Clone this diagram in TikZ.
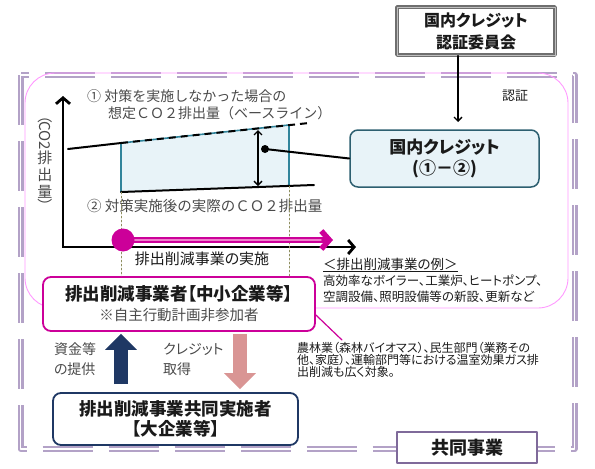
\documentclass[tikz,border=0pt]{standalone}
\usepackage{fontspec}
\setmainfont{Noto Sans CJK JP}[RawFeature=+palt]
\newfontfamily\monojp{Noto Sans CJK JP}
\usepackage{xcolor}
\usepackage{tikz}
\usetikzlibrary{arrows.meta,positioning}
\definecolor{crLilac}{HTML}{B3A2C7}
\definecolor{crPink}{HTML}{FF99FF}
\definecolor{crMagenta}{HTML}{CC0099}
\definecolor{crBlush}{HTML}{EE7FCB}
\definecolor{crTeal}{HTML}{31849B}
\definecolor{crDeepTeal}{HTML}{2D5F70}
\definecolor{crIce}{HTML}{E8F3F8}
\definecolor{crNavy}{HTML}{1F3864}
\definecolor{crSalmon}{HTML}{D99594}
\definecolor{crGrey}{HTML}{6F6F6F}
\definecolor{crInk}{HTML}{1A1A1A}
\definecolor{crMuted}{HTML}{4A4A4A}
\definecolor{crPurple}{HTML}{7F6A9A}
\definecolor{crOlive}{HTML}{8F8F60}
\tikzset{
  cr diagram/.style={x=1pt, y=-1pt, text=crInk,
    line cap=round, line join=round},
  cr box/.style={draw, fill=white, line width=1.8pt,
    rounded corners=8pt, align=center, inner sep=0pt},
  cr committee box/.style={draw=crGrey, double=black!25, double distance=0.8pt,
    line width=1.4pt, fill=white, align=center, minimum width=158pt,
    minimum height=48pt, font=\fontsize{16}{22}\selectfont\bfseries},
  cr credit box/.style={cr box, draw=crDeepTeal, fill=crIce, line width=1.5pt,
    minimum width=189pt, minimum height=57pt,
    font=\fontsize{17}{21}\selectfont\bfseries},
  cr joint box/.style={draw=crPurple, fill=white, line width=1.2pt,
    minimum width=140pt, minimum height=31pt, inner sep=0pt,
    font=\fontsize{18}{20}\selectfont\bfseries},
  cr frame/.style={draw=crLilac, double=white, double distance=1.6pt,
    line width=2.2pt, line cap=butt, dash pattern=on 50pt off 16pt},
  cr zone/.style={draw=crPink, line width=0.9pt, rounded corners=30pt},
  cr axis/.style={{Straight Barb[length=6pt,width=14pt]}-{Straight Barb[length=6pt,width=14pt]},
    draw=black, line width=2.8pt, line join=miter},
  cr trend/.style={draw=black, line width=2pt},
  cr teal edge/.style={draw=crTeal, line width=1.6pt},
  cr gap arrow/.style={{Straight Barb[length=4pt,width=8pt]}-{Straight Barb[length=4pt,width=8pt]},
    draw=black, line width=1.3pt, shorten <=2pt, shorten >=1pt},
  cr arrow/.style={-{Straight Barb[length=4pt,width=8pt]}, draw=black, line width=1.3pt},
  cr guide/.style={draw=crOlive, line width=0.5pt, dash pattern=on 2pt off 2pt},
  cr run/.style={-{Straight Barb[length=8pt,width=18pt]}, draw=crMagenta, line width=5.5pt},
  cr run inner/.style={draw=crBlush, line width=1.4pt, shorten >=12pt},
  cr run dot/.style={circle, fill=crMagenta, minimum size=23pt, inner sep=0pt},
  cr block/.style={line width=14pt, line cap=butt,
    -{Triangle[length=16pt,width=31pt]}},
  cr label/.style={text=crMuted, inner sep=0pt, font=\fontsize{14}{20}\selectfont},
  cr chart text/.style={text=crMuted, inner sep=0pt, align=left,
    font=\monojp\fontsize{14.5}{17}\selectfont},
  cr small/.style={text=crInk, inner sep=0pt, font=\fontsize{12.5}{16}\selectfont},
  cr note/.style={text=crInk, inner sep=0pt, align=left,
    font=\fontsize{12}{12}\selectfont}
}
\begin{document}
\begin{tikzpicture}[cr diagram]
\useasboundingbox (0,0) rectangle (595,469);
\draw[cr frame] (20.5,75) rectangle (574.5,449);
\draw[cr zone] (25,73) rectangle (568,308);

\node[cr committee box] (committee) at (476,31) {国内クレジット\\認証委員会};
\coordinate (certify) at (458,122);
\draw[cr arrow] (committee.south -| certify) -- (certify);
\node[text=crInk, inner sep=0pt, font=\fontsize{13}{15}\selectfont] (certify label) at (515,96) {認証};

\coordinate (origin) at (63,247);
\coordinate (y top) at (63,96);
\coordinate (x end) at (356,247);
\coordinate (base a) at (68,149);
\coordinate (base b) at (121,143);
\coordinate (base c) at (289,125);
\coordinate (base d) at (309,123);
\coordinate (act a) at (121,192);
\coordinate (act b) at (289,186);
\coordinate (act c) at (314,185);
\fill[crIce] (base b) -- (base c) -- (act b) -- (act a) -- cycle;
\draw[cr teal edge] (act a) -- (base b) -- (base c) -- (act b);
\draw[cr trend] (base a) -- (base b);
\draw[cr trend, line cap=butt, dash pattern=on 7pt off 5pt] (base b) -- (base d);
\draw[cr trend] (act a) -- (act c);
\draw[cr axis] (y top) -- (origin) -- (x end);

\node[cr chart text, anchor=west, font=\monojp\fontsize{14}{17}\selectfont] (baseline text) at (87,104.5) {① 対策を実施しなかった場合の\\\hspace{21pt}想定ＣＯ２排出量（ベースライン）};
\node[cr chart text, anchor=west] (actual text) at (87,206) {② 対策実施後の実際のＣＯ２排出量};
\node[cr label, align=center, font=\monojp\fontsize{15}{17}\selectfont] (y label) at (45,161)
  {\rotatebox[origin=c]{-90}{（}\\[-3pt]\rotatebox[origin=c]{-90}{CO2}\\排\\出\\量\\[-3pt]\rotatebox[origin=c]{-90}{）}};

\coordinate (gap top) at (258,128);
\coordinate (gap bottom) at (258,187);
\draw[cr gap arrow] (gap top) -- (gap bottom);
\node[cr credit box] (credit) at (444.5,158.5) {国内クレジット\\(①－②)};
\node[circle, fill=black, minimum size=8pt, inner sep=0pt] (gap dot) at (265,149) {};
\draw[cr trend] (gap dot.center) -- (credit.west);

\node[cr box, draw=crMagenta, minimum width=272pt, minimum height=54pt,
  font=\fontsize{17.5}{20}\selectfont] (sme) at (179,304)
  {\bfseries 排出削減事業者【中小企業等】\\{\color{crMuted}\monojp\fontsize{14.5}{17}\selectfont ※自主行動計画非参加者}};
\draw[cr guide] (act a) -- (act a |- sme.north);
\draw[cr guide] (act b) -- (act b |- sme.north);

\coordinate (run start) at (123,240);
\coordinate (run end) at (333,240);
\draw[cr run] (run start) -- (run end);
\draw[cr run inner] (run start) -- (run end);
\node[cr run dot] (run dot) at (run start) {};
\node[text=crInk, inner sep=0pt, font=\fontsize{15}{17}\selectfont] (run label) at (202,259) {排出削減事業の実施};

\node[text=crInk, inner sep=0pt, anchor=west, font=\fontsize{13.5}{15}\selectfont] (example head) at (323,265) {\underline{＜排出削減事業の例＞}};
\node[cr small, anchor=north west, align=left] (examples) at (323,275) {高効率なボイラー、工業炉、ヒートポンプ、\\空調設備、照明設備等の新設、更新など};

\coordinate (note tip) at (342,340);
\draw[draw=crMagenta, line width=1.2pt] ([yshift=-11pt]sme.east) -- (note tip);
\node[cr note, anchor=north west] (scope note) at (297,342) {農林業（森林バイオマス）、民生部門（業務その\\他、家庭）、運輸部門等における温室効果ガス排\\出削減も広く対象。};

\node[cr box, draw=crNavy, minimum width=245pt, minimum height=52pt,
  font=\fontsize{17.5}{20}\selectfont\bfseries] (lead firm) at (175.5,419) {排出削減事業共同実施者\\【大企業等】};

\coordinate (fund lane) at (121,360);
\coordinate (credit lane) at (240,360);
\draw[cr block, draw=crNavy, fill=crNavy, shorten <=8pt, shorten >=2pt] (lead firm.north -| fund lane) -- (sme.south -| fund lane);
\draw[cr block, draw=crSalmon, fill=crSalmon, shorten <=2pt, shorten >=3pt] (sme.south -| credit lane) -- (lead firm.north -| credit lane);
\node[cr label, align=left] (fund label) at (75,359) {資金等\\の提供};
\node[cr label, align=left, anchor=west] (transfer label) at (163,359) {クレジット\\取得};

\node[cr joint box] (joint) at (467,447.5) {共同事業};
\end{tikzpicture}
\end{document}
